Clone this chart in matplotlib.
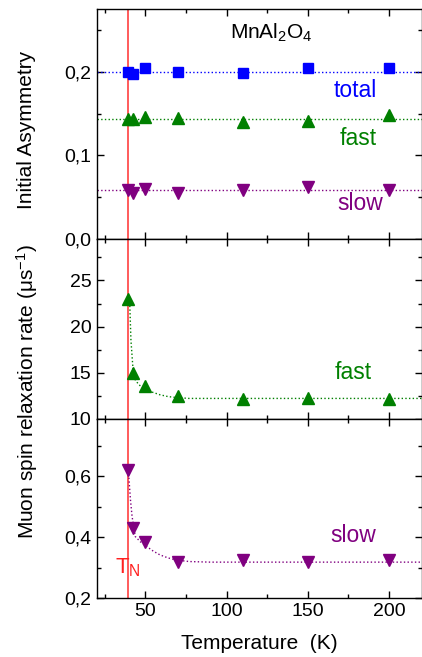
import matplotlib
matplotlib.use("Agg")
import matplotlib.pyplot as plt
from matplotlib.ticker import MultipleLocator, FuncFormatter

plt.rcParams['font.family'] = ['Liberation Sans', 'DejaVu Sans']
plt.rcParams['mathtext.fontset'] = 'custom'
plt.rcParams['mathtext.rm'] = 'Liberation Sans'
plt.rcParams['mathtext.it'] = 'Liberation Sans'

# data
temp = [39.5, 42.5, 50, 70, 110, 150, 200]
asym_total = [0.200, 0.197, 0.205, 0.200, 0.199, 0.204, 0.205]
asym_fast = [0.143, 0.143, 0.146, 0.145, 0.140, 0.141, 0.148]
asym_slow = [0.058, 0.055, 0.060, 0.055, 0.059, 0.062, 0.058]
mean_total, mean_fast, mean_slow = 0.200, 0.143, 0.059

lam_fast = [23.0, 15.0, 13.5, 12.5, 12.1, 12.3, 12.1]
lam_slow = [0.62, 0.43, 0.385, 0.32, 0.325, 0.32, 0.325]

# fit curves
fit_t_fast = [39.5, 40.4, 41.2, 42.5, 43.9, 46, 49, 54, 59, 64, 69, 77, 90, 220]
fit_fast = [23.0, 22.8, 18.5, 15.3, 14.2, 13.7, 13.3, 12.9, 12.6, 12.4, 12.3, 12.2, 12.2, 12.2]
fit_t_slow = [39.5, 39.8, 40.9, 41.9, 43.9, 47, 51, 55, 59, 64, 69, 77, 90, 220]
fit_slow = [0.62, 0.605, 0.523, 0.468, 0.402, 0.385, 0.369, 0.354, 0.342, 0.332, 0.325, 0.320, 0.318, 0.318]

T_N = 39.5

c_total = '#0000ff'
c_fast = '#008000'
c_slow = '#800080'

fig = plt.figure(figsize=(4.22, 6.57), dpi=100)
W, H = 422, 657
left, right = 96.5, 421.5
edges = [9, 239, 418.7, 598]  # pixel rows of panel boundaries
axs = []
for i in range(3):
    ax = fig.add_axes([left / W, 1 - edges[i + 1] / H, (right - left) / W, (edges[i + 1] - edges[i]) / H])
    axs.append(ax)

comma = FuncFormatter(lambda v, p: ('%.1f' % v).replace('.', ','))

for ax in axs:
    ax.set_xlim(20, 220)
    ax.xaxis.set_major_locator(MultipleLocator(50))
    ax.xaxis.set_minor_locator(MultipleLocator(25))
    ax.tick_params(which='both', direction='in', top=True, right=True, labelsize=14)
    ax.tick_params(which='major', length=5, width=1)
    ax.tick_params(which='minor', length=3, width=1)
    ax.axvline(T_N, color='#ff4040', lw=1.2, zorder=1)
    for s in ax.spines.values():
        s.set_linewidth(1)

# panel 1: initial asymmetry
ax = axs[0]
ax.set_ylim(0, 0.275)
ax.yaxis.set_major_locator(MultipleLocator(0.1))
ax.yaxis.set_minor_locator(MultipleLocator(0.05))
ax.yaxis.set_major_formatter(comma)
ax.tick_params(labelbottom=False)
ax.axhline(mean_total, color=c_total, ls=':', lw=1)
ax.axhline(mean_fast, color=c_fast, ls=':', lw=1)
ax.axhline(mean_slow, color=c_slow, ls=':', lw=1)
ax.plot(temp, asym_total, 's', color=c_total, ms=7, zorder=3)
ax.plot(temp, asym_fast, '^', color=c_fast, ms=9, zorder=3)
ax.plot(temp, asym_slow, 'v', color=c_slow, ms=9, zorder=3)
ax.text(0.538, 0.895, 'MnAl$_2$O$_4$', transform=ax.transAxes, ha='center', va='center', fontsize=15)
ax.text(0.795, 0.645, 'total', transform=ax.transAxes, ha='center', va='center', fontsize=16.5, color=c_total)
ax.text(0.805, 0.435, 'fast', transform=ax.transAxes, ha='center', va='center', fontsize=16.5, color=c_fast)
ax.text(0.81, 0.155, 'slow', transform=ax.transAxes, ha='center', va='center', fontsize=16.5, color=c_slow)

# panel 2: fast relaxation rate
ax = axs[1]
ax.set_ylim(10, 29.5)
ax.yaxis.set_major_locator(MultipleLocator(5))
ax.yaxis.set_minor_locator(MultipleLocator(2.5))
ax.tick_params(labelbottom=False)
ax.plot(fit_t_fast, fit_fast, ':', color=c_fast, lw=1)
ax.plot(temp, lam_fast, '^', color=c_fast, ms=9, zorder=3)
ax.text(0.79, 0.255, 'fast', transform=ax.transAxes, ha='center', va='center', fontsize=16.5, color=c_fast)

# panel 3: slow relaxation rate
ax = axs[2]
ax.set_ylim(0.2, 0.79)
ax.yaxis.set_major_locator(MultipleLocator(0.2))
ax.yaxis.set_minor_locator(MultipleLocator(0.1))
ax.yaxis.set_major_formatter(comma)
ax.plot(fit_t_slow, fit_slow, ':', color=c_slow, lw=1)
ax.plot(temp, lam_slow, 'v', color=c_slow, ms=9, zorder=3)
ax.text(0.79, 0.35, 'slow', transform=ax.transAxes, ha='center', va='center', fontsize=16.5, color=c_slow)
ax.text(T_N - 0.5, 0.3, 'T$_\\mathrm{N}$', ha='center', va='center', fontsize=16, color='#ff2020')
ax.set_xlabel('Temperature  (K)', fontsize=15, labelpad=10)

fig.text(27 / W, 1 - 130 / H, 'Initial Asymmetry', rotation=90,
         ha='center', va='center', fontsize=15)
fig.text(27 / W, 1 - 392 / H, 'Muon spin relaxation rate (μs$^{-1}$)', rotation=90,
         ha='center', va='center', fontsize=15)

fig.savefig('out.png', dpi=100)
